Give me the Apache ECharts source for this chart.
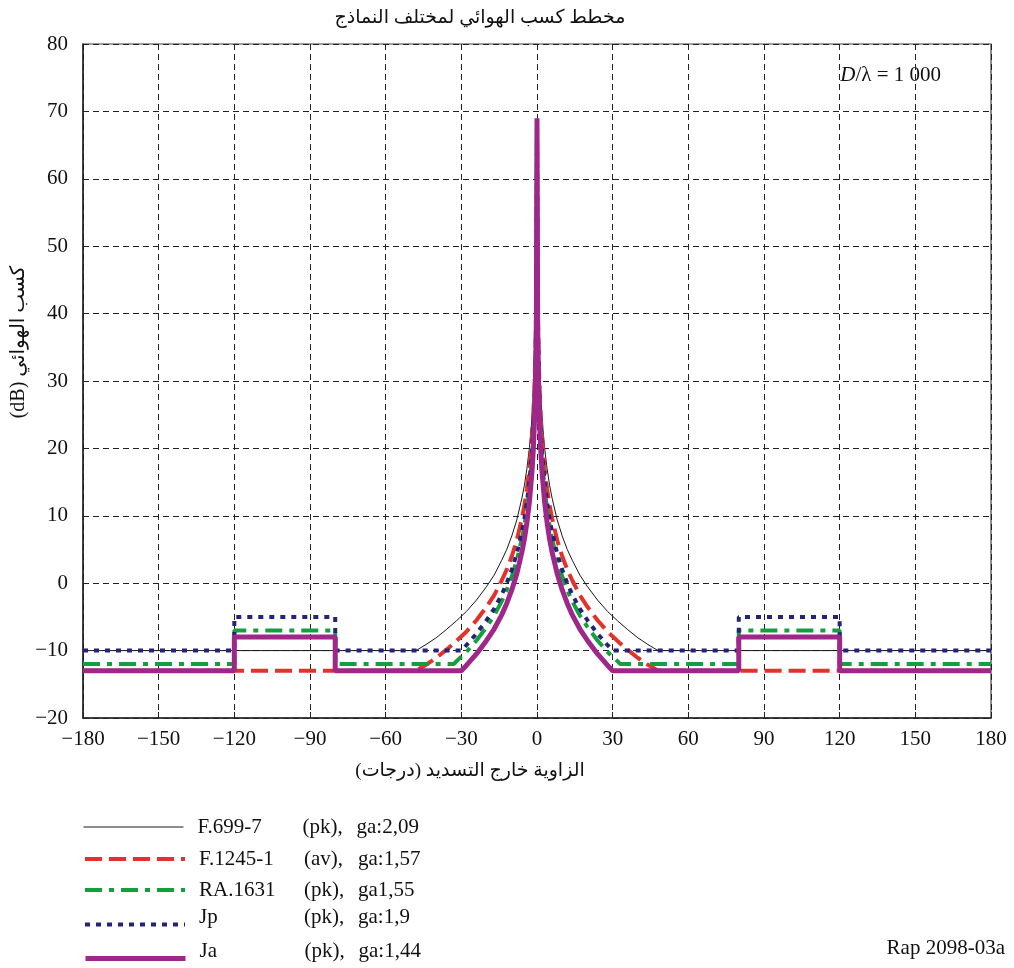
<!DOCTYPE html>
<html><head><meta charset="utf-8">
<script src="https://cdn.jsdelivr.net/npm/echarts/dist/echarts.min.js"></script>
<style>html,body{margin:0;padding:0;background:#fff}#c{width:1014px;height:968px}</style>
</head><body><div id="c"></div>
<script>
const RLE = '\u202B', PDF = '\u202C';
const titleText = RLE + 'مخطط كسب الهوائي لمختلف النماذج' + PDF;
const xName = RLE + 'الزاوية خارج التسديد (درجات)' + PDF;
const yName = RLE + 'كسب الهوائي (dB)' + PDF;
const xTicks = { min: -180, max: 180, interval: 30 };
const yTicks = { min: -20, max: 80, interval: 10 };

const seriesNames = ['F.699-7', 'F.1245-1', 'RA.1631', 'Jp', 'Ja'];
const seriesModes = ['(pk),', '(av),', '(pk),', '(pk),', '(pk),'];
const seriesGa = ['ga:2,09', 'ga:1,57', 'ga1,55', 'ga:1,9', 'ga:1,44'];

// F.699-7
const f699X = [-180, -48, -44, -40, -36, -32, -28, -24, -20, -17, -14, -12, -10, -8, -6, -5, -4, -3, -2, -1.5, -1, -0.5, -0.25, 0,
  0.25, 0.5, 1, 1.5, 2, 3, 4, 5, 6, 8, 10, 12, 14, 17, 20, 24, 28, 32, 36, 40, 44, 48, 180];
const f699Y = [-10, -10, -9.1, -8.1, -6.9, -5.6, -4.2, -2.5, -0.5, 1.2, 3.4, 5.0, 7.0, 9.4, 12.6, 14.5, 17.0, 20.1, 24.5, 27.6, 32, 39.5, 47, 67.7,
  47, 39.5, 32, 27.6, 24.5, 20.1, 17.0, 14.5, 12.6, 9.4, 7.0, 5.0, 3.4, 1.2, -0.5, -2.5, -4.2, -5.6, -6.9, -8.1, -9.1, -10, -10];

// F.1245-1
const f1245X = [-180, -48, -44, -40, -36, -32, -28, -24, -20, -17, -14, -12, -10, -8, -6, -5, -4, -3, -2, -1.5, -1, -0.5, -0.25, 0,
  0.25, 0.5, 1, 1.5, 2, 3, 4, 5, 6, 8, 10, 12, 14, 17, 20, 24, 28, 32, 36, 40, 44, 48, 180];
const f1245Y = [-13, -13, -12.1, -11.1, -9.9, -8.6, -7.2, -5.5, -3.5, -1.8, 0.4, 2.0, 4.0, 6.4, 9.6, 11.5, 14.0, 17.1, 21.5, 24.6, 29, 36.5, 44, 67.7,
  44, 36.5, 29, 24.6, 21.5, 17.1, 14.0, 11.5, 9.6, 6.4, 4.0, 2.0, 0.4, -1.8, -3.5, -5.5, -7.2, -8.6, -9.9, -11.1, -12.1, -13, -13];

// RA.1631
const ra1631X = [-180, -120, -120, -80, -80, -33, -32, -28, -24, -20, -17, -14, -12, -10, -8, -6, -5, -4, -3, -2, -1.5, -1, -0.5, -0.25, 0,
  0.25, 0.5, 1, 1.5, 2, 3, 4, 5, 6, 8, 10, 12, 14, 17, 20, 24, 28, 32, 33, 80, 80, 120, 120, 180];
const ra1631Y = [-12, -12, -7, -7, -12, -12, -11.6, -10.2, -8.5, -6.5, -4.8, -2.7, -1.0, 1.0, 3.4, 6.6, 8.5, 11.0, 14.1, 18.5, 21.6, 26, 33.5, 41, 67.7,
  41, 33.5, 26, 21.6, 18.5, 14.1, 11.0, 8.5, 6.6, 3.4, 1.0, -1.0, -2.7, -4.8, -6.5, -8.5, -10.2, -11.6, -12, -12, -7, -7, -12, -12];

// Jp
const jpX = [-180, -120, -120, -80, -80, -30, -28, -24, -20, -17, -14, -12, -10, -8, -6, -5, -4, -3, -2, -1.5, -1, -0.5, -0.25, 0,
  0.25, 0.5, 1, 1.5, 2, 3, 4, 5, 6, 8, 10, 12, 14, 17, 20, 24, 28, 30, 80, 80, 120, 120, 180];
const jpY = [-10, -10, -5, -5, -10, -10, -9.2, -7.5, -5.5, -3.8, -1.7, 0, 2, 4.4, 7.6, 9.5, 12, 15.1, 19.5, 22.6, 27, 34.5, 42, 67.7,
  42, 34.5, 27, 22.6, 19.5, 15.1, 12, 9.5, 7.6, 4.4, 2, 0, -1.7, -3.8, -5.5, -7.5, -9.2, -10, -10, -5, -5, -10, -10];

// Ja
const jaX = [-180, -120, -120, -80, -80, -30, -28, -24, -20, -17, -14, -12, -10, -8, -6, -5, -4, -3, -2, -1.5, -1, -0.5, -0.25, 0,
  0.25, 0.5, 1, 1.5, 2, 3, 4, 5, 6, 8, 10, 12, 14, 17, 20, 24, 28, 30, 80, 80, 120, 120, 180];
const jaY = [-13, -13, -8, -8, -13, -13, -12.2, -10.5, -8.5, -6.8, -4.7, -3, -1, 1.4, 4.6, 6.5, 9, 12.1, 16.5, 19.6, 24, 31.5, 39, 69,
  39, 31.5, 24, 19.6, 16.5, 12.1, 9, 6.5, 4.6, 1.4, -1, -3, -4.7, -6.8, -8.5, -10.5, -12.2, -13, -13, -8, -8, -13, -13];

const allX = [f699X, f1245X, ra1631X, jpX, jaX];
const allY = [f699Y, f1245Y, ra1631Y, jpY, jaY];

const serif = "'Liberation Serif', 'Times New Roman', 'DejaVu Serif', serif";
const arab = "'Liberation Serif', 'DejaVu Sans', serif";

const styles = [
  { color: '#1a1a1a', width: 1, type: 'solid' },
  { color: '#e3322b', width: 4, type: [17, 7] },
  { color: '#12a03c', width: 4, type: [17, 7, 5, 7] },
  { color: '#232378', width: 4, type: [5, 6] },
  { color: '#a0278a', width: 5, type: 'solid' }
];
const legendTops = [816, 848, 879, 907, 941];
const legendTextLift = [0, 0, 0, 14, 14];

const zip = (xs, ys) => xs.map((x, i) => [x, ys[i]]);
const fmt = v => String(v).replace('-', '\u2212');

const FS = 21;
const richFor = lift => ({
  a: { width: 105, padding: [0, 0, lift, 9], fontFamily: serif, fontSize: FS, color: '#111' },
  b: { width: 54, padding: [0, 0, lift, 0], fontFamily: serif, fontSize: FS, color: '#111' },
  c: { padding: [0, 0, lift, 0], fontFamily: serif, fontSize: FS, color: '#111' }
});

const chart = echarts.init(document.getElementById('c'), null, { renderer: 'canvas' });
chart.setOption({
  backgroundColor: '#fff',
  animation: false,
  grid: { left: 83, right: 23, top: 44, bottom: 250, show: true, borderColor: '#444', borderWidth: 1.2 },
  xAxis: {
    type: 'value', min: xTicks.min, max: xTicks.max, interval: xTicks.interval,
    axisLine: { show: true, onZero: false, lineStyle: { color: '#222', width: 1.5 } },
    axisTick: { show: true, inside: true, length: 6, lineStyle: { color: '#222' } },
    axisLabel: { formatter: fmt, fontFamily: serif, fontSize: FS, color: '#111', margin: 11 },
    splitLine: { show: true, lineStyle: { color: '#222', type: [6, 4], width: 1 } }
  },
  yAxis: {
    type: 'value', min: yTicks.min, max: yTicks.max, interval: yTicks.interval,
    axisLine: { show: true, onZero: false, lineStyle: { color: '#222', width: 1.5 } },
    axisTick: { show: false },
    axisLabel: { formatter: fmt, fontFamily: serif, fontSize: FS, color: '#111', margin: 15 },
    splitLine: { show: true, lineStyle: { color: '#222', type: [6, 4], width: 1 } }
  },
  legend: seriesNames.map((n, i) => ({
    orient: 'vertical', left: 83, top: legendTops[i], padding: 0,
    itemWidth: 100, itemHeight: 14,
    selectedMode: false,
    data: [n],
    itemStyle: { color: 'rgba(0,0,0,0)', borderWidth: 0, opacity: 0 },
    lineStyle: { color: styles[i].color, width: styles[i].width, type: styles[i].type },
    formatter: name => '{a|' + name + '}{b|' + seriesModes[i] + '}{c|' + seriesGa[i] + '}',
    textStyle: { fontFamily: serif, fontSize: FS, color: '#111', lineHeight: 22, rich: richFor(legendTextLift[i]) }
  })),
  graphic: [
    { type: 'text', x: 480, y: 18, style: { text: titleText, font: '19px ' + arab, fill: '#111', align: 'center', verticalAlign: 'middle' } },
    { type: 'text', x: 470, y: 771, style: { text: xName, font: '19px ' + arab, fill: '#111', align: 'center', verticalAlign: 'middle' } },
    { type: 'text', x: 19, y: 342, rotation: Math.PI / 2, style: { text: yName, font: '20px ' + arab, fill: '#111', align: 'center', verticalAlign: 'middle' } },
    { type: 'text', x: 941, y: 75, style: {
        text: '{i|D}/λ = 1 000', align: 'right', verticalAlign: 'middle', fill: '#111',
        font: FS + 'px ' + serif,
        rich: { i: { fontStyle: 'italic', fontFamily: serif, fontSize: FS, fill: '#111' } }
      } },
    { type: 'text', x: 1005, y: 948, style: { text: 'Rap 2098-03a', font: FS + 'px ' + serif, fill: '#111', align: 'right', verticalAlign: 'middle' } }
  ],
  series: seriesNames.map((n, i) => ({
    name: n, type: 'line', data: zip(allX[i], allY[i]),
    symbol: 'none', showSymbol: false, smooth: false,
    lineStyle: { color: styles[i].color, width: styles[i].width, type: styles[i].type },
    itemStyle: { color: styles[i].color },
    z: 2 + i
  }))
});
</script>
</body></html>
